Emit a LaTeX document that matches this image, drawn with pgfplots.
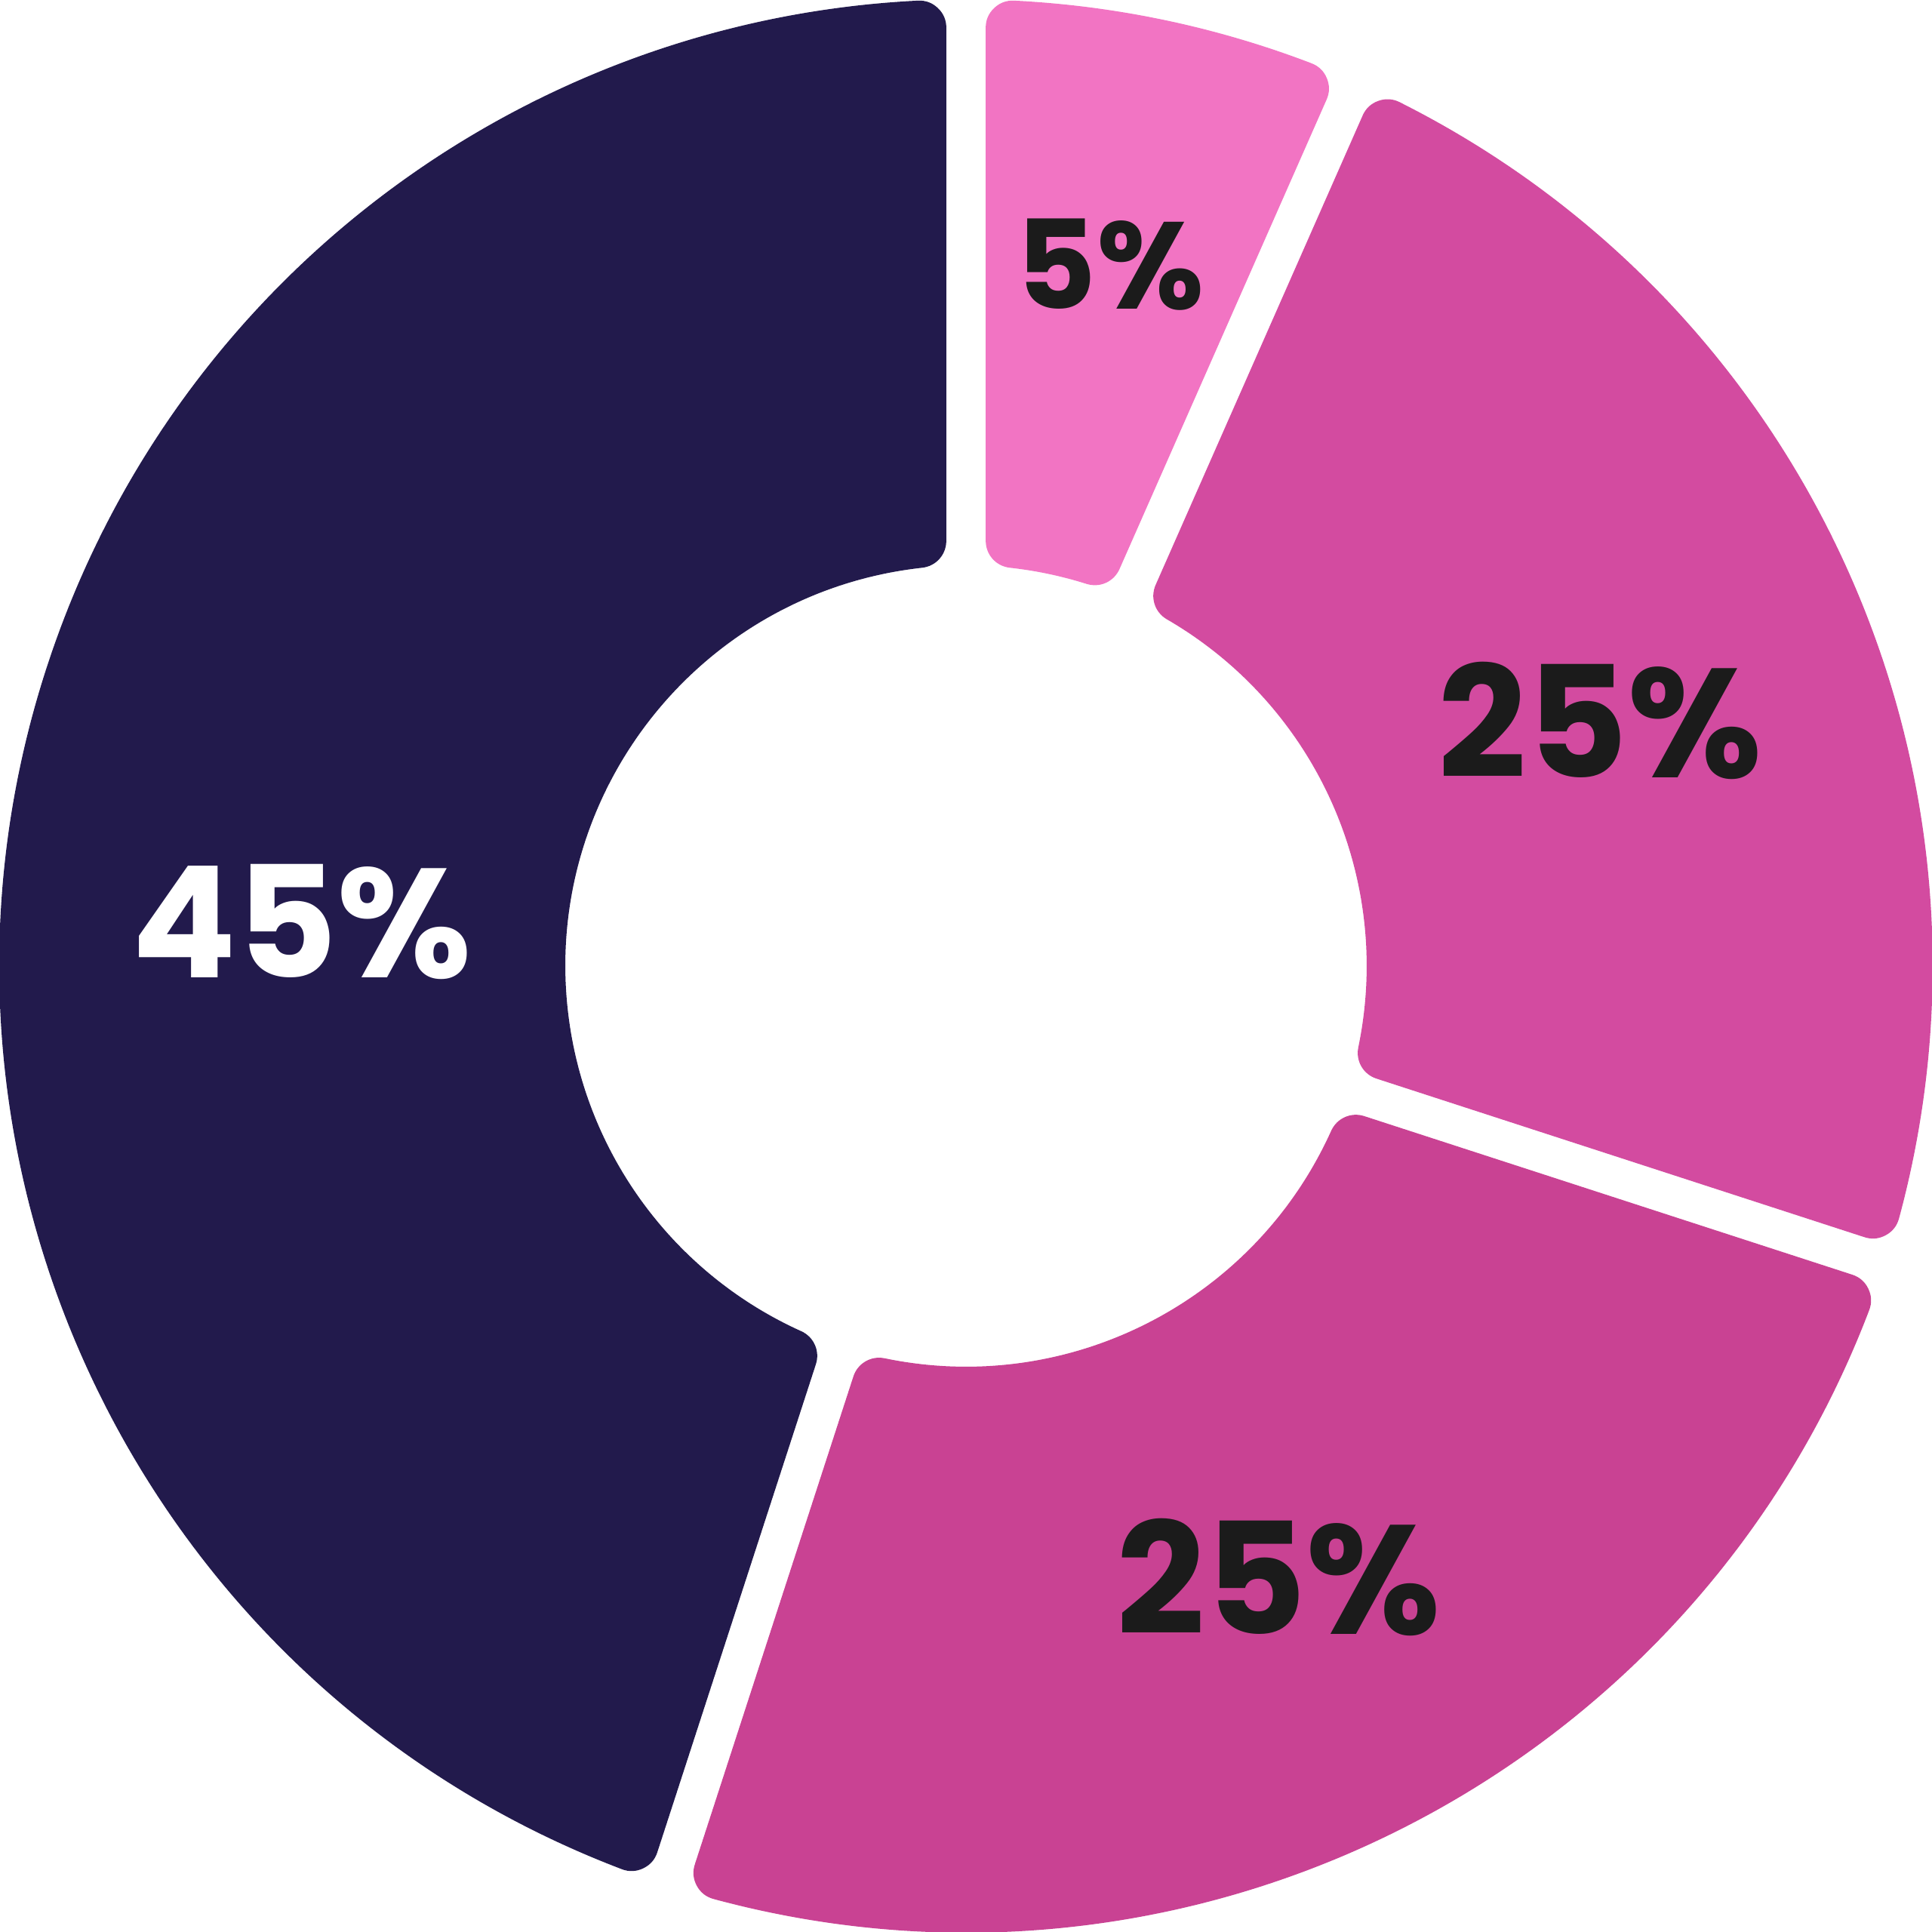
\documentclass[border=0pt]{standalone}
\usepackage{pgfplots}
\pgfplotsset{compat=1.18}
\usepackage{fontspec}
\setmainfont{Poppins}

\definecolor{navy}{HTML}{221A4C}
\definecolor{pinkA}{HTML}{F274C3}
\definecolor{pinkB}{HTML}{D34BA0}
\definecolor{pinkC}{HTML}{C94293}
\definecolor{txtdark}{HTML}{1B1B1B}

\pgfdeclareplotmark{nothing}{}

% slice geometry (cm): radii and half gap, already shrunk by the corner stroke
\def\Ro{7.62}
\def\Ri{3.47}
\def\gap{0.38}

\begin{document}
\begin{tikzpicture}
\begin{axis}[
    x=0.01cm, y=0.01cm,
    xmin=0, xmax=1568, ymin=0, ymax=1568,
    hide axis, clip=false,
]
% slices: angles (deg, counter-clockwise from east)
\addplot[
    scatter, only marks, mark=nothing,
    point meta=\thisrow{hi},
    visualization depends on={\thisrow{lo} \as \lo},
    visualization depends on={\thisrow{hi} \as \hi},
    visualization depends on={value \thisrow{col} \as \col},
    scatter/@pre marker code/.code={%
        \pgfmathsetmacro\dO{asin(\gap/\Ro)}%
        \pgfmathsetmacro\dI{asin(\gap/\Ri)}%
        \pgfmathsetmacro\aOs{\hi-\dO}%
        \pgfmathsetmacro\aOe{\lo+\dO}%
        \pgfmathsetmacro\aIs{\lo+\dI}%
        \pgfmathsetmacro\aIe{\hi-\dI}%
        \path[fill=\col, draw=\col, line width=0.44cm, line join=round]
            (\aOs:\Ro cm) arc[start angle=\aOs, end angle=\aOe, radius=\Ro cm]
            -- (\aIs:\Ri cm) arc[start angle=\aIs, end angle=\aIe, radius=\Ri cm]
            -- cycle;
    },
    scatter/@post marker code/.code={},
] table {
x   y   lo    hi    col   share
784 784 66.2  90    pinkA 5
784 784 -18   66.2  pinkB 25
784 784 -108  -18   pinkC 25
784 784 90    252   navy  45
};

% labels
\addplot[
    only marks, mark=nothing,
    nodes near coords, point meta=explicit symbolic,
    visualization depends on={value \thisrow{tc} \as \tc},
    visualization depends on={value \thisrow{fs} \as \fs},
    nodes near coords style={anchor=center, inner sep=0pt, text=\tc,
        font=\bfseries\fontsize{\fs}{\fs}\selectfont},
] table[meta=lab] {
x    y    lab    tc      fs
245  820  45\%   white   35.8
901  1353 5\%    txtdark 28.5
1299 983  25\%   txtdark 35.8
1038 288  25\%   txtdark 35.8
};

\coordinate (bl) at (axis cs:0,0);
\coordinate (tr) at (axis cs:1568,1568);
\end{axis}
\pgfresetboundingbox
\useasboundingbox (bl) rectangle (tr);
\end{tikzpicture}
\end{document}
